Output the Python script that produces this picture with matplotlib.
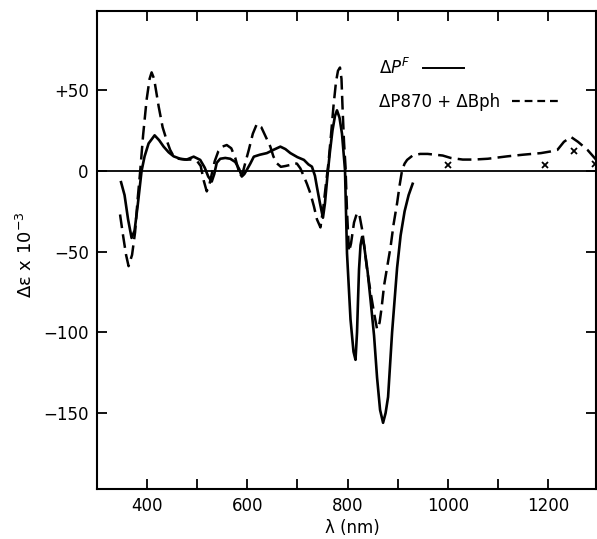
import matplotlib

matplotlib.use('Agg')
import matplotlib.pyplot as plt
from matplotlib.lines import Line2D
from matplotlib.ticker import MultipleLocator, FuncFormatter, FixedLocator

plt.rcParams['font.family'] = 'DejaVu Sans'
plt.rcParams['mathtext.fontset'] = 'dejavusans'

# Delta P^F (solid curve)
wl_pf = [348, 355, 362, 369, 375, 381, 389, 395, 403, 415, 424, 433, 443, 453,
         466, 479, 493, 506, 515, 522, 529, 534, 539, 546, 556, 566, 576, 584,
         589, 594, 599, 606, 613, 625, 639, 652, 666, 676, 686, 700, 713, 722,
         729, 735, 739, 745, 751, 755, 760, 765, 770, 775, 779, 784, 789, 795,
         799, 806, 812, 816, 819, 821, 823, 826, 829, 833, 840, 846, 853, 859,
         865, 871, 876, 881, 889, 899, 906, 914, 922, 930]
val_pf = [-7, -15, -30, -41.5, -37, -22, 0, 9, 17, 22, 19, 15, 11.5, 9,
          7.5, 7, 8.8, 6.8, 2, -3.5, -6.6, -2, 5, 7.5, 8, 7.5, 5.5, 1,
          -3.5, -2, 0.6, 4.5, 8.8, 10, 11, 13, 15, 13.5, 11, 8.5, 6.8, 4,
          2.6, -3, -10, -20, -29, -20, -3, 12, 25, 34, 37.5, 33, 23, 0.6,
          -51, -92, -112, -117, -100, -80, -61, -46, -41, -46, -62, -80, -102, -128,
          -148, -156, -150, -140, -100, -60, -40, -25, -15, -8]

# Delta P870 + Delta Bph (dashed curve)
wl_bph = [346, 352, 358, 363, 370, 376, 381, 386, 392, 399, 405, 409, 414, 423,
          431, 439, 446, 453, 463, 475, 488, 500, 507, 513, 519, 524, 529, 535,
          542, 550, 559, 568, 576, 582, 586, 591, 596, 603, 611, 619, 628, 637,
          646, 652, 659, 667, 676, 686, 693, 699, 706, 713, 719, 726, 733, 739,
          746, 752, 757, 762, 767, 772, 777, 781, 785, 788, 790, 793, 796, 799,
          803, 807, 813, 818, 823, 829, 834, 839, 846, 853, 859, 864, 868, 873,
          880, 886, 892, 899, 904, 909, 914, 919, 930, 945, 960, 975, 990, 1006,
          1030, 1052, 1080, 1119, 1150, 1186, 1205, 1219, 1232, 1246, 1260, 1279, 1296]
val_bph = [-27, -40, -52, -59, -52, -38, -18, -1, 22, 44, 57, 61, 57, 40,
           27, 19, 13, 9, 7.5, 7, 7, 6, 3, -6, -12.7, -9, -2, 6,
           12, 15, 16, 14, 8, 1, -3.5, -1, 5, 13, 23, 29, 27, 21,
           15, 9, 4.7, 2.5, 3, 3.7, 4.7, 4.5, 1.5, -3.5, -8, -14, -22, -30,
           -35, -22, -8, 5, 22, 40, 55, 62, 64, 57, 40, 18, 2.6, -25,
           -50, -45, -32, -27, -26, -36, -48, -61, -75, -88, -98, -94, -85, -71,
           -58, -47, -33, -20, -9, 0.5, 4.5, 6.8, 9.5, 10.5, 10.5, 10, 9.5, 8,
           7, 7, 7.5, 9, 10, 11, 12, 13, 18, 21, 18, 13, 7]

# small crosses drawn near the long-wavelength tail
wl_cross = [1000, 1195, 1253, 1294]
val_cross = [3.5, 3.5, 12, 4]

y_ticks = [-150, -100, -50, 0, 50]
y_tick_labels = ['\u2212150', '\u2212100', '\u221250', '0', '+50']
x_tick_labels = [400, 600, 800, 1000, 1200]

fig = plt.figure(figsize=(5.97, 5.39), dpi=100)
ax = fig.add_axes([97 / 597, 50 / 539, 499 / 597, 478 / 539])

ax.axhline(0, color='black', linewidth=1.3)
ax.plot(wl_pf, val_pf, color='black', linewidth=1.9, solid_joinstyle='round')
ax.plot(wl_bph, val_bph, color='black', linewidth=1.8, dashes=(5.5, 2.5))
ax.plot(wl_cross, val_cross, linestyle='none', marker='x', color='black',
        markersize=5, markeredgewidth=1.3, clip_on=False)

ax.set_xlim(300, 1296)
ax.set_ylim(-197, 99)

ax.xaxis.set_major_locator(MultipleLocator(100))
ax.xaxis.set_major_formatter(FuncFormatter(
    lambda v, p: f"{int(round(v))}" if int(round(v)) in x_tick_labels else ''))
ax.yaxis.set_major_locator(FixedLocator(y_ticks))
ax.set_yticklabels(y_tick_labels)

for s in ax.spines.values():
    s.set_linewidth(1.5)
ax.tick_params(direction='in', length=7, width=1.3, top=True, right=True,
               labelsize=12, pad=6)

ax.set_xlabel('\u03bb (nm)', fontsize=12)
ax.xaxis.set_label_coords(0.512, -0.062)
ax.set_ylabel('\u0394\u03b5 x 10$^{-3}$', fontsize=13)
ax.yaxis.set_label_coords(-0.122, 0.49)

# two one-entry legends so both labels start at the same x
h1 = Line2D([], [], color='black', linewidth=1.4)
h2 = Line2D([], [], color='black', linewidth=1.6, dashes=(3.5, 2.2))
leg1 = ax.legend([h1], ['\u0394$\\mathit{P}^{F}$'], loc='center left',
                 bbox_to_anchor=(0.566, 0.881), frameon=False, markerfirst=False,
                 handlelength=2.5, handletextpad=0.7, borderpad=0, borderaxespad=0,
                 fontsize=12)
ax.add_artist(leg1)
ax.legend([h2], ['\u0394P870 + \u0394Bph'], loc='center left',
          bbox_to_anchor=(0.566, 0.81), frameon=False, markerfirst=False,
          handlelength=3.0, handletextpad=0.7, borderpad=0, borderaxespad=0,
          fontsize=12)

fig.savefig('out.png', dpi=100)
